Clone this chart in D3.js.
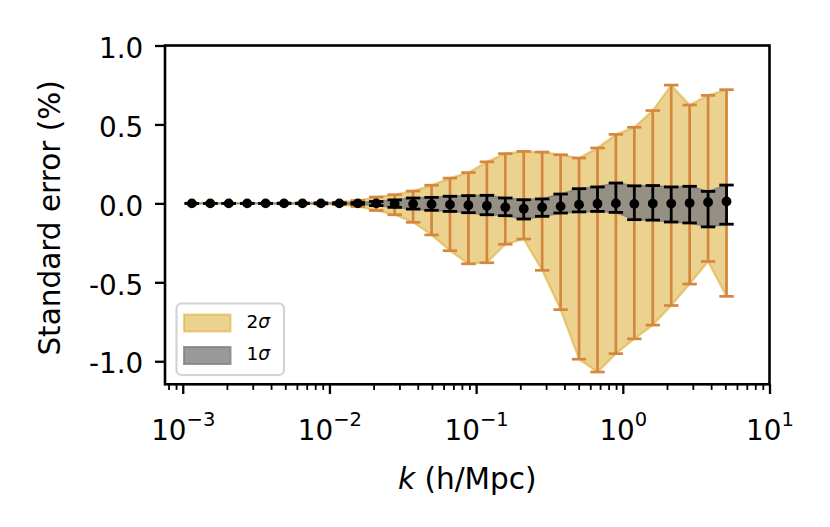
<!DOCTYPE html>
<html><head><meta charset="utf-8">
<script src="https://cdn.jsdelivr.net/npm/d3@7"></script>
<style>
body{margin:0;background:#fff}
svg{display:block}
text{font-family:"DejaVu Sans",sans-serif;fill:#000}
</style>
</head><body>
<svg id="chart" width="830" height="527"></svg>
<script>
// ---- data ----
const kValues = [0.001154, 0.00154, 0.002058, 0.002749, 0.003672, 0.004904, 0.00655, 0.008748,
  0.011685, 0.015607, 0.020846, 0.027843, 0.037189, 0.049672, 0.066344, 0.088614,
  0.11836, 0.15809, 0.21115, 0.28203, 0.3767, 0.50313, 0.67202, 0.89697,
  1.1981, 1.6002, 2.1373, 2.8547, 3.813, 5.0933];
const meanValues = [0,0,0,0,0,0,0,0,0,0,0,-0.002,-0.003,-0.005,-0.008,-0.012,
  -0.015,-0.025,-0.034,-0.025,-0.019,-0.008,-0.002,0.0,-0.003,-0.001,-0.001,0.002,0.007,0.012];
const upper2Sigma = [0.001,0.001,0.001,0.001,0.001,0.002,0.003,0.004,0.008,0.018,0.04,0.055,
  0.078,0.115,0.16,0.195,0.263,0.315,0.329,0.325,0.308,0.287,0.351,0.437,0.482,0.588,0.749,0.623,0.684,0.72];
const lower2Sigma = [-0.001,-0.001,-0.001,-0.001,-0.001,-0.002,-0.003,-0.004,-0.008,-0.02,-0.045,-0.072,
  -0.12,-0.2,-0.3,-0.383,-0.376,-0.259,-0.226,-0.424,-0.673,-0.987,-1.068,-0.952,-0.858,-0.771,-0.647,-0.511,-0.368,-0.589];
const upper1Sigma = [0,0,0,0,0,0.001,0.001,0.002,0.003,0.005,0.012,0.022,0.034,0.038,0.045,0.049,
  0.051,0.034,0.023,0.028,0.059,0.093,0.104,0.129,0.111,0.113,0.104,0.108,0.076,0.116];
const lower1Sigma = [0,0,0,0,0,-0.001,-0.001,-0.002,-0.003,-0.005,-0.014,-0.025,-0.036,-0.044,-0.051,-0.059,
  -0.072,-0.078,-0.099,-0.082,-0.061,-0.054,-0.051,-0.057,-0.103,-0.106,-0.118,-0.124,-0.149,-0.132];
const yTickValues = [-1.0, -0.5, 0.0, 0.5, 1.0];
const yTickLabels = ["-1.0", "-0.5", "0.0", "0.5", "1.0"];
const xTickExponents = [-3, -2, -1, 0, 1];
const legendLabels = ["2", "1"];
const xLabelText = "(h/Mpc)";
const yLabelText = "Standard error (%)";

// ---- layout ----
const L = 165, R = 769.5, T = 45.5, B = 384.3;
const FS = 27.8, LFS = 29.5;
const svg = d3.select("#chart");
const x = d3.scaleLog().domain([Math.pow(10, -3.121), 10]).range([L, R]);
const y = d3.scaleLinear().domain([-1.146, 1.0]).range([B, T]);

const data = kValues.map((k, i) => ({k, m: meanValues[i], u2: upper2Sigma[i], l2: lower2Sigma[i], u1: upper1Sigma[i], l1: lower1Sigma[i]}));

const plot = svg.append("g");
const capW = 7.2;

// 2 sigma band
plot.append("path").datum(data)
  .attr("d", d3.area().x(d => x(d.k)).y0(d => y(d.l2)).y1(d => y(d.u2)))
  .attr("fill", "goldenrod").attr("fill-opacity", 0.5)
  .attr("stroke", "goldenrod").attr("stroke-opacity", 0.5).attr("stroke-width", 2.2);

// 2 sigma errorbars
const eb2 = plot.append("g").attr("stroke", "#d4873f").attr("stroke-width", 2.7);
data.forEach(d => {
  eb2.append("line").attr("x1", x(d.k)).attr("x2", x(d.k)).attr("y1", y(d.l2)).attr("y2", y(d.u2));
  [d.l2, d.u2].forEach(v => eb2.append("line").attr("x1", x(d.k) - capW).attr("x2", x(d.k) + capW).attr("y1", y(v)).attr("y2", y(v)));
});

// 1 sigma band
plot.append("path").datum(data)
  .attr("d", d3.area().x(d => x(d.k)).y0(d => y(d.l1)).y1(d => y(d.u1)))
  .attr("fill", "gray").attr("fill-opacity", 0.8)
  .attr("stroke", "gray").attr("stroke-opacity", 0.8).attr("stroke-width", 1.8);

// 1 sigma errorbars
const eb1 = plot.append("g").attr("stroke", "#000").attr("stroke-width", 2.8);
data.forEach(d => {
  eb1.append("line").attr("x1", x(d.k)).attr("x2", x(d.k)).attr("y1", y(d.l1)).attr("y2", y(d.u1));
  [d.l1, d.u1].forEach(v => eb1.append("line").attr("x1", x(d.k) - capW).attr("x2", x(d.k) + capW).attr("y1", y(v)).attr("y2", y(v)));
});

// mean points
plot.selectAll("circle.pt").data(data).enter().append("circle")
  .attr("cx", d => x(d.k)).attr("cy", d => y(d.m)).attr("r", 4.9).attr("fill", "#000");

// ---- axes ----
const yAxis = d3.axisLeft(y).tickValues(yTickValues).tickFormat((d, i) => yTickLabels[i]).tickSize(10).tickPadding(11.7);
const gy = svg.append("g").attr("transform", `translate(${L},0)`).call(yAxis);
gy.select(".domain").remove();
gy.selectAll(".tick line").attr("stroke", "#000").attr("stroke-width", 2.3);
gy.selectAll(".tick text").attr("font-size", FS).attr("font-family", "DejaVu Sans").attr("dy", "0.42em");

const xMajor = xTickExponents.map(e => Math.pow(10, e));
const xAxis = d3.axisBottom(x).tickValues(xMajor).tickSize(9.7).tickFormat("");
const gx = svg.append("g").attr("transform", `translate(0,${B})`).call(xAxis);
gx.select(".domain").remove();
gx.selectAll(".tick line").attr("stroke", "#000").attr("stroke-width", 2.3);
gx.selectAll(".tick text").each(function(d, i) {
  const t = d3.select(this);
  t.text(null).attr("y", 55.7).attr("dy", 0).attr("font-size", FS).attr("font-family", "DejaVu Sans");
  const e = xTickExponents[i];
  t.append("tspan").text("10");
  t.append("tspan").attr("dy", -13.5).attr("font-size", 19.5).text(e < 0 ? "\u2212" + Math.abs(e) : String(e));
});

// minor ticks
const minorVals = [];
for (let e = -4; e <= 0; e++) for (let m = 2; m <= 9; m++) {
  const v = m * Math.pow(10, e);
  if (v >= x.domain()[0] && v <= x.domain()[1]) minorVals.push(v);
}
const xMinor = d3.axisBottom(x).tickValues(minorVals).tickSize(5.6).tickFormat("");
const gxm = svg.append("g").attr("transform", `translate(0,${B})`).call(xMinor);
gxm.select(".domain").remove();
gxm.selectAll(".tick line").attr("stroke", "#000").attr("stroke-width", 1.8);

// frame
svg.append("rect").attr("x", L).attr("y", T).attr("width", R - L).attr("height", B - T)
  .attr("fill", "none").attr("stroke", "#000").attr("stroke-width", 2.6);

// axis labels
const xl = svg.append("text").attr("x", (L + R) / 2).attr("y", 489).attr("text-anchor", "middle").attr("font-size", LFS);
xl.append("tspan").attr("font-style", "italic").text("k");
xl.append("tspan").text(" " + xLabelText);

svg.append("text").attr("transform", `translate(60,${(T + B) / 2 + 3}) rotate(-90)`)
  .attr("text-anchor", "middle").attr("font-size", LFS).text(yLabelText);

// ---- legend ----
const lg = svg.append("g");
lg.append("rect").attr("x", 176.5).attr("y", 303.5).attr("width", 107.5).attr("height", 71.5).attr("rx", 5)
  .attr("fill", "#fff").attr("fill-opacity", 0.8).attr("stroke", "#d3d3d3").attr("stroke-width", 2.2);
const patchStyles = [
  {fill: "goldenrod", fo: 0.5, stroke: "goldenrod", so: 0.5},
  {fill: "gray", fo: 0.8, stroke: "gray", so: 0.8}
];
legendLabels.forEach((lab, i) => {
  const py = 314.5 + i * 32.5;
  lg.append("rect").attr("x", 184).attr("y", py).attr("width", 46.5).attr("height", 17)
    .attr("fill", patchStyles[i].fill).attr("fill-opacity", patchStyles[i].fo)
    .attr("stroke", patchStyles[i].stroke).attr("stroke-opacity", patchStyles[i].so).attr("stroke-width", 2);
  const t = lg.append("text").attr("x", 246.5).attr("y", py + 13.3).attr("font-size", 18.5);
  t.append("tspan").text(lab);
  t.append("tspan").attr("font-style", "italic").text("\u03c3");
});
</script>
</body></html>
